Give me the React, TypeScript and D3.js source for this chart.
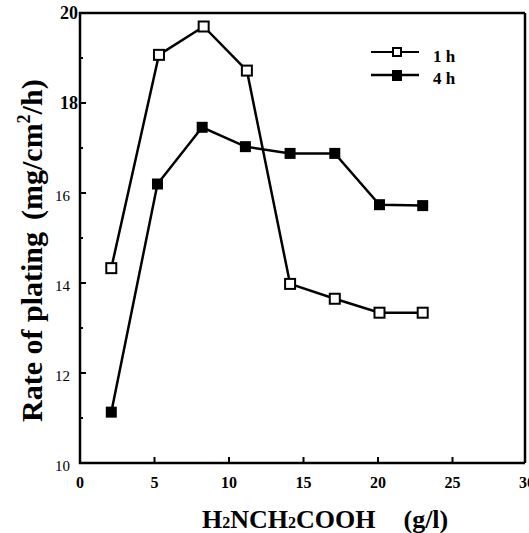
import React from "react";
import * as d3 from "d3";

const xValues1h = [2.1, 5.3, 8.3, 11.2, 14.1, 17.1, 20.1, 23.0];
const yValues1h = [14.33, 19.07, 19.7, 18.72, 13.98, 13.65, 13.34, 13.34];
const xValues4h = [2.1, 5.2, 8.2, 11.1, 14.1, 17.1, 20.1, 23.0];
const yValues4h = [11.13, 16.2, 17.46, 17.03, 16.88, 16.88, 15.74, 15.72];
const xTicks = [0, 5, 10, 15, 20, 25, 30];
const yTicks = [10, 12, 14, 16, 18, 20];
const yMinorTicks = [11, 13, 15, 17, 19];
const seriesLabels = ["1 h", "4 h"];

const W = 529;
const H = 533;
const fs = { fontFamily: '"Liberation Serif"' };

export default function App() {
  const x = d3.scaleLinear().domain([0, 30]).range([80, 527]);
  const y = d3.scaleLinear().domain([10, 20]).range([463, 13]);
  const line = d3
    .line<[number, number]>()
    .x((d) => x(d[0]))
    .y((d) => y(d[1]));
  const s1: [number, number][] = xValues1h.map((v, i) => [v, yValues1h[i]]);
  const s2: [number, number][] = xValues4h.map((v, i) => [v, yValues4h[i]]);
  const right = 525;
  const big = (t: number) => t >= 18;

  return (
    <svg
      width={W}
      height={H}
      style={{ position: "absolute", left: 0, top: 0, background: "#fff" }}
    >
      {/* frame */}
      <g stroke="#000" strokeWidth={2.5} fill="none">
        <line x1={x(0)} x2={x(0)} y1={y(20) - 1} y2={y(10) + 1} />
        <line x1={x(0) - 1} x2={right} y1={y(10)} y2={y(10)} />
        <line x1={x(0) - 1} x2={right} y1={y(20)} y2={y(20)} />
        <line x1={right} x2={right} y1={y(20)} y2={y(10)} />
      </g>
      {/* ticks */}
      <g stroke="#000" strokeWidth={2}>
        {yTicks.map((t) => (
          <line key={"yt" + t} x1={x(0)} x2={x(0) + 6} y1={y(t)} y2={y(t)} />
        ))}
        {yMinorTicks.map((t) => (
          <line key={"ym" + t} x1={x(0)} x2={x(0) + 3} y1={y(t)} y2={y(t)} />
        ))}
        {xTicks.slice(1, -1).map((t) => (
          <line key={"xt" + t} x1={x(t)} x2={x(t)} y1={y(10)} y2={y(10) - 6} />
        ))}
      </g>
      {/* y tick labels */}
      {yTicks.map((t) => (
        <text
          key={"yl" + t}
          x={big(t) ? x(0) - 2 : x(0) - 10}
          y={y(t) + (big(t) ? 6 : 8)}
          fontSize={big(t) ? 18 : 15}
          fontWeight={big(t) ? "bold" : "normal"}
          textAnchor="end"
          style={fs}
        >
          {t}
        </text>
      ))}
      {/* x tick labels */}
      {xTicks.map((t) => (
        <text
          key={"xl" + t}
          x={x(t)}
          y={y(10) + 25}
          fontSize={16}
          fontWeight="bold"
          textAnchor="middle"
          style={fs}
        >
          {t}
        </text>
      ))}
      {/* series */}
      <path d={line(s1) || ""} fill="none" stroke="#000" strokeWidth={2.5} />
      <path d={line(s2) || ""} fill="none" stroke="#000" strokeWidth={2.5} />
      {s1.map((d, i) => (
        <rect
          key={"m1" + i}
          x={x(d[0]) - 5}
          y={y(d[1]) - 5}
          width={10}
          height={10}
          fill="#fff"
          stroke="#000"
          strokeWidth={2}
        />
      ))}
      {s2.map((d, i) => (
        <rect
          key={"m2" + i}
          x={x(d[0]) - 5.5}
          y={y(d[1]) - 5.5}
          width={11}
          height={11}
          fill="#000"
        />
      ))}
      {/* legend */}
      <line x1={371} x2={419} y1={52} y2={52} stroke="#000" strokeWidth={2} />
      <rect x={393} y={48} width={8} height={8} fill="#fff" stroke="#000" strokeWidth={2} />
      <text x={433} y={62} fontSize={17} fontWeight="bold" style={fs}>
        {seriesLabels[0]}
      </text>
      <line x1={371} x2={419} y1={75} y2={75} stroke="#000" strokeWidth={2.5} />
      <rect x={392} y={70} width={10} height={11} fill="#000" />
      <text x={433} y={84} fontSize={17} fontWeight="bold" style={fs}>
        {seriesLabels[1]}
      </text>
      {/* axis titles */}
      <text x={202} y={528} fontSize={26} fontWeight="bold" style={fs}>
        H<tspan fontSize={16}>2</tspan>NCH<tspan fontSize={16}>2</tspan>COOH
        <tspan dx={28}>(g/l)</tspan>
      </text>
      <text
        transform={`translate(42, 422) rotate(-90)`}
        fontSize={30}
        fontWeight="bold"
        style={fs}
      >
        Rate of plating<tspan dx={12}>(mg/cm</tspan>
        <tspan fontSize={18} dy={-12}>2</tspan>
        <tspan dy={12}>/h)</tspan>
      </text>
    </svg>
  );
}
